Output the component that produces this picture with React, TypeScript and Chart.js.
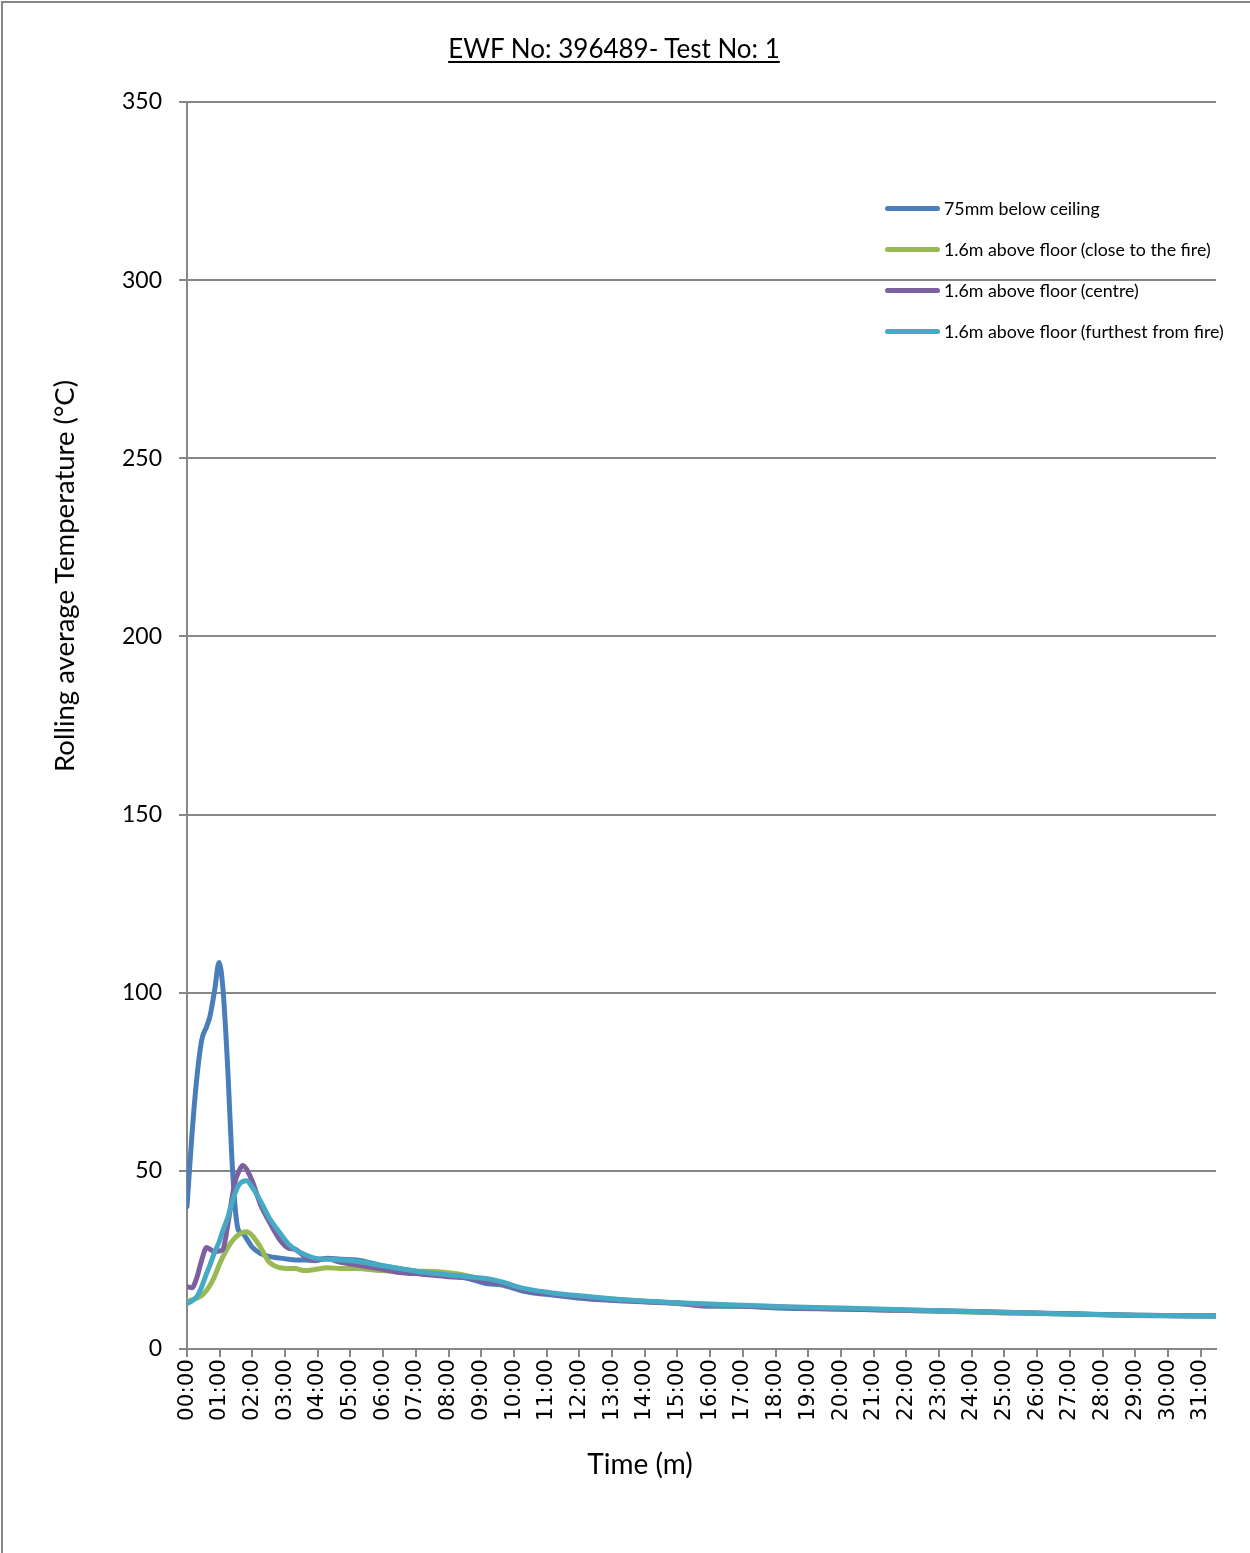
import React, { useEffect, useRef } from "react";
import { Chart, registerables } from "chart.js";

Chart.register(...registerables);

const chartTitle = "EWF No: 396489- Test No: 1";
const xAxisTitle = "Time (m)";
const yAxisTitle = "Rolling average Temperature (°C)";

const seriesNames = [
  "75mm below ceiling",
  "1.6m above floor (close to the fire)",
  "1.6m above floor (centre)",
  "1.6m above floor (furthest from fire)",
];
const seriesColors = ["#4A7EBB", "#98B954", "#7D60A0", "#46AAC5"];

// time in minutes
const times = [
  0, 0.15, 0.3, 0.45, 0.6, 0.7, 0.85, 0.98, 1.1, 1.25, 1.37, 1.47, 1.57, 1.7, 1.82, 2.0, 2.25, 2.5,
  2.85, 3.1, 3.3, 3.6, 3.9, 4.3, 4.7, 5.2, 5.9, 6.5, 7.2, 8.0, 8.6, 9.2, 9.6, 10.3, 11.3, 12.3, 13.6,
  15, 16, 17, 18.1, 20, 22.7, 25, 27, 29, 31.47,
];

const ceiling = [
  40, 60, 76, 86.7, 90.5, 93.3, 101, 108.5, 101, 78, 54, 40, 33.4, 32.5, 31, 28.5, 26.8, 26,
  25.5, 25.2, 25, 25, 24.8, 25.5, 25.2, 25, 23.5, 22.5, 21.5, 20.5, 19.8, 18.3, 18, 16.2, 15, 14, 13.4,
  12.8, 12, 12, 11.5, 11.2, 10.7, 10.2, 9.8, 9.4, 9.2,
];

const closeToFire = [
  13.2, 13.8, 14.3, 15, 16.5, 17.8, 20.5, 23.5, 25.9, 28.5, 30.2, 31.2, 32, 32.7, 32.9, 31.8, 28.5, 24.5,
  22.8, 22.6, 22.6, 22, 22.3, 22.8, 22.6, 22.6, 22, 21.8, 21.8, 21.4, 20.5, 19, 18.5, 16.8, 15.4, 14.5, 13.6,
  12.9, 12.4, 12, 11.8, 11.3, 10.7, 10.1, 9.8, 9.5, 9.3,
];

const centre = [
  17.5, 17.2, 20, 25, 28.5, 28, 27.3, 27.5, 28, 35, 42, 47, 49.5, 51.5, 50.5, 47, 40.5, 36,
  30.5, 28.3, 28, 26, 25, 25.3, 24.3, 23.6, 22.5, 21.5, 21, 20.3, 20, 18.8, 18.5, 16.5, 15.3, 14.3, 13.5,
  12.9, 12.4, 12, 11.7, 11.2, 10.8, 10.3, 9.9, 9.5, 9.3,
];

const furthest = [
  12.8, 13.5, 14.7, 17.5, 21.2, 23.5, 27.3, 30, 33.3, 37, 40.8, 43.7, 45.8, 47, 47.2, 45.3, 41.5, 37,
  32.5, 29.5, 28, 26.5, 25.5, 25.2, 25, 24.6, 23.5, 22.6, 21.6, 20.8, 20.3, 19.7, 18.9, 17, 15.6, 14.7, 13.7,
  13, 12.6, 12.3, 11.9, 11.5, 10.8, 10.3, 9.8, 9.5, 9.3,
];

const seriesValues = [ceiling, closeToFire, centre, furthest];

const yMin = 0;
const yMax = 350;
const yStep = 50;
const xMin = 0;
const xMax = 31.47;

const FONT = "Lato, 'Open Sans', sans-serif";
const GRID = "#878787";

export default function App() {
  const canvasRef = useRef<HTMLCanvasElement | null>(null);

  useEffect(() => {
    const canvas = canvasRef.current;
    if (!canvas) return;
    const datasets = seriesValues.map((vals, i) => ({
      label: seriesNames[i],
      data: vals.map((v, j) => ({ x: times[j], y: v })),
      borderColor: seriesColors[i],
      backgroundColor: seriesColors[i],
      borderWidth: 5,
      pointRadius: 0,
      fill: false,
      cubicInterpolationMode: "monotone" as const,
      borderCapStyle: "round" as const,
      borderJoinStyle: "round" as const,
      order: seriesValues.length - i,
    }));
    const chart = new Chart(canvas, {
      type: "line",
      data: { datasets },
      options: {
        animation: false,
        responsive: false,
        devicePixelRatio: 1,
        layout: { padding: { left: 0, top: 102, right: 34, bottom: 0 } },
        plugins: { legend: { display: false }, title: { display: false }, tooltip: { enabled: false } },
        scales: {
          x: {
            type: "linear",
            min: xMin,
            max: xMax,
            afterFit: (s: any) => {
              s.height = 204;
            },
            grid: {
              drawOnChartArea: false,
              drawTicks: true,
              tickLength: 8,
              color: GRID,
              lineWidth: 2,
            },
            border: { color: GRID, width: 2 },
            ticks: {
              stepSize: 1,
              includeBounds: false,
              autoSkip: false,
              minRotation: 90,
              maxRotation: 90,
              padding: 2,
              color: "#000",
              font: { family: "'DejaVu Sans', sans-serif", size: 21.5 },
              callback: (v: any) => String(Math.round(Number(v))).padStart(2, "0") + ":00",
            },
          },
          y: {
            type: "linear",
            min: yMin,
            max: yMax,
            afterFit: (s: any) => {
              s.width = 187;
            },
            grid: {
              drawOnChartArea: true,
              drawTicks: true,
              tickLength: 8,
              color: GRID,
              lineWidth: 2,
            },
            border: { color: GRID, width: 2 },
            ticks: {
              stepSize: yStep,
              padding: 17,
              color: "#000",
              font: { family: FONT, size: 23 },
            },
          },
        },
      },
    });
    return () => chart.destroy();
  }, []);

  return (
    <div
      style={{
        position: "absolute",
        left: 0,
        top: 0,
        width: 1250,
        height: 1553,
        overflow: "hidden",
        background: "#fff",
        fontFamily: FONT,
        color: "#000",
      }}
    >
      <div
        style={{
          position: "absolute",
          left: 1,
          top: 1,
          width: 1300,
          height: 1600,
          borderLeft: `2px solid ${GRID}`,
          borderTop: `2px solid ${GRID}`,
        }}
      />
      <canvas ref={canvasRef} width={1250} height={1553} style={{ position: "absolute", left: 0, top: 0, width: 1250, height: 1553 }} />
      <div
        style={{
          position: "absolute",
          left: 0,
          width: 1228,
          top: 31,
          textAlign: "center",
          fontSize: 26,
          lineHeight: "34px",
          textDecoration: "underline",
          textUnderlineOffset: 3,
        }}
      >
        {chartTitle}
      </div>
      <div
        style={{
          position: "absolute",
          left: 0,
          width: 1280,
          top: 1445,
          textAlign: "center",
          fontSize: 28,
          lineHeight: "36px",
        }}
      >
        {xAxisTitle}
      </div>
      <div
        style={{
          position: "absolute",
          left: 64,
          top: 576,
          transform: "translate(-50%, -50%) rotate(-90deg)",
          whiteSpace: "nowrap",
          fontSize: 27.5,
          lineHeight: "32px",
        }}
      >
        {yAxisTitle}
      </div>
      {seriesNames.map((name, i) => (
        <div
          key={name}
          style={{
            position: "absolute",
            left: 885,
            top: 208 + i * 41 - 12,
            height: 24,
            display: "flex",
            alignItems: "center",
            whiteSpace: "nowrap",
            fontSize: 17.8,
          }}
        >
          <span
            style={{
              display: "inline-block",
              width: 55,
              height: 5,
              borderRadius: 3,
              background: seriesColors[i],
              marginRight: 4,
              flexShrink: 0,
            }}
          />
          <span>{name}</span>
        </div>
      ))}
    </div>
  );
}
